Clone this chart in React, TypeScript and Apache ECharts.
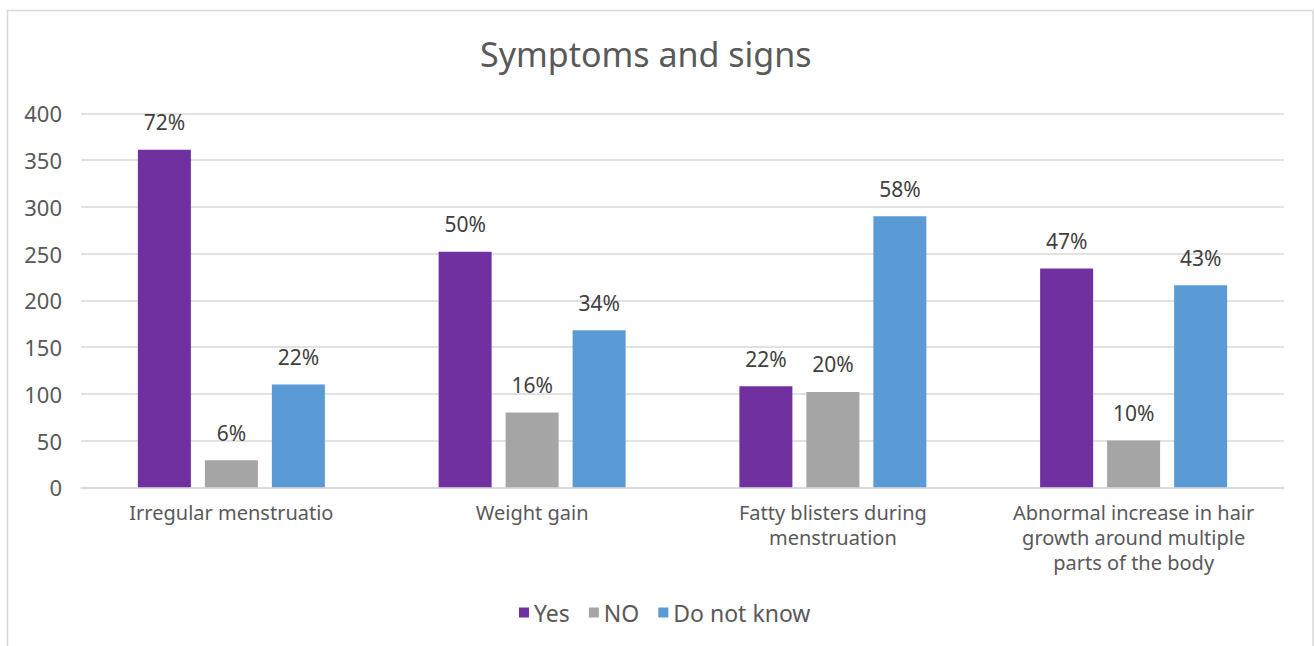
import React, { useEffect, useRef } from "react";
import * as echarts from "echarts";

const categories = [
  "Irregular menstruatio",
  "Weight gain",
  "Fatty blisters during\nmenstruation",
  "Abnormal increase in hair\ngrowth around multiple\nparts of the body",
];
const yesValues = [361, 252, 108, 234];
const noValues = [29, 80, 102, 50];
const dkValues = [110, 168, 290, 216];
const yesPct = ["72%", "50%", "22%", "47%"];
const noPct = ["6%", "16%", "20%", "10%"];
const dkPct = ["22%", "34%", "58%", "43%"];
const seriesNames = ["Yes", "NO", "Do not know"];
const colors = ["#7030A0", "#A5A5A5", "#5B9BD5"];

const FONT = "'Noto Sans', sans-serif";

export default function App() {
  const ref = useRef<HTMLDivElement>(null);
  useEffect(() => {
    if (!ref.current) return;
    const chart = echarts.init(ref.current, null, { renderer: "svg" });
    const mk = (name: string, data: number[], pct: string[], color: string) => ({
      name,
      type: "bar",
      data,
      barWidth: 53,
      barGap: "26.4%",
      itemStyle: { color },
      label: {
        show: true,
        position: "top",
        distance: 17,
        fontSize: 21,
        fontFamily: FONT,
        color: "#404040",
        formatter: (p: any) => pct[p.dataIndex],
      },
    });
    chart.setOption({
      animation: false,
      backgroundColor: "#ffffff",
      graphic: [
        {
          type: "rect",
          shape: { x: 7.5, y: 10.5, width: 1305.5, height: 660 },
          style: { fill: "none", stroke: "#d9d9d9", lineWidth: 1.5 },
          silent: true,
        },
      ],
      title: {
        text: "Symptoms and signs",
        left: 475,
        top: 32,
        textStyle: {
          fontSize: 34,
          fontWeight: "normal",
          fontFamily: FONT,
          color: "#595959",
        },
      },
      legend: {
        data: seriesNames,
        bottom: 17,
        left: 514,
        itemWidth: 10,
        itemHeight: 10,
        itemGap: 19,
        icon: "rect",
        textStyle: { fontSize: 23, fontFamily: FONT, color: "#595959" },
      },
      grid: { left: 81, right: 31, top: 113.3, bottom: 158.7, containLabel: false },
      xAxis: {
        type: "category",
        data: categories,
        axisLine: { lineStyle: { color: "#d9d9d9", width: 1.5 } },
        axisTick: { show: false },
        axisLabel: {
          interval: 0,
          margin: 13,
          fontSize: 20,
          lineHeight: 25,
          fontFamily: FONT,
          color: "#595959",
        },
      },
      yAxis: {
        type: "value",
        min: 0,
        max: 400,
        interval: 50,
        axisLine: { show: false },
        axisTick: { show: false },
        splitLine: { lineStyle: { color: "#d9d9d9", width: 1.5 } },
        axisLabel: { margin: 19, fontSize: 22, fontFamily: FONT, color: "#595959" },
      },
      series: [
        mk(seriesNames[0], yesValues, yesPct, colors[0]),
        mk(seriesNames[1], noValues, noPct, colors[1]),
        mk(seriesNames[2], dkValues, dkPct, colors[2]),
      ],
    });
    return () => chart.dispose();
  }, []);
  return (
    <div
      ref={ref}
      style={{ position: "fixed", left: 0, top: 0, width: 1315, height: 646 }}
    />
  );
}
